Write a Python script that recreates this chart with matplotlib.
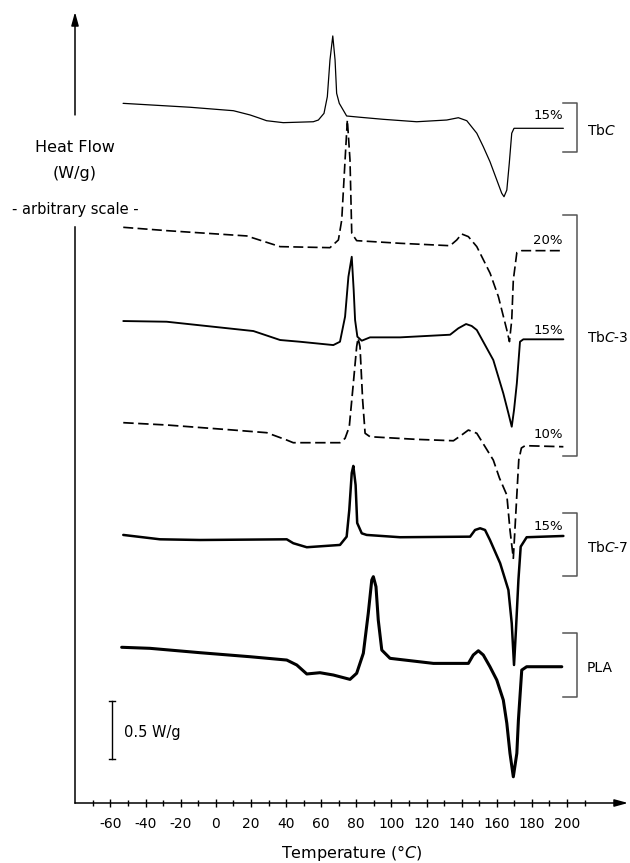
import matplotlib
matplotlib.use('Agg')
import matplotlib.pyplot as plt
import numpy as np

plt.rcParams['font.family'] = ['DejaVu Sans']
plt.rcParams['mathtext.fontset'] = 'dejavusans'
plt.rcParams['axes.unicode_minus'] = False

# ---------------- data (temperature in °C, heat flow in W/g relative to the end baseline)
temp_tbc = [-52.8, -14.7, 10, 19.5, 24.5, 28.9, 38.4, 55.5, 58.4, 61.6, 63.5, 65.0, 66.6, 67.9, 68.8,
            70.3, 74.5, 82.1, 95.4, 114.4, 131.5, 138.1, 142.9, 148.6, 152.3, 156.1, 160, 162.8,
            164.1, 165.7, 167.1, 168.5, 169.8, 197.9]
hf_tbc = [0.217, 0.183, 0.153, 0.116, 0.090, 0.066, 0.049, 0.057, 0.072, 0.130, 0.275, 0.594, 0.803,
          0.594, 0.304, 0.217, 0.107, 0.096, 0.078, 0.057, 0.072, 0.092, 0.066, -0.043, -0.160,
          -0.290, -0.450, -0.565, -0.595, -0.537, -0.304, -0.043, 0, 0]

temp_tbc3_20 = [-52.7, -28, 17.6, 36.6, 65, 69.8, 71.7, 73.6, 74.9, 76.4, 77.4, 80.2, 104.9, 133.4,
                137.2, 140, 143.8, 148.6, 156.2, 160.9, 165.7, 167.2, 168.5, 169.4, 171.4, 174.2, 197.9]
hf_tbc3_20 = [0.203, 0.174, 0.128, 0.035, 0.026, 0.093, 0.267, 0.789, 1.137, 0.789, 0.151, 0.087,
              0.064, 0.043, 0.093, 0.145, 0.122, 0.035, -0.197, -0.400, -0.690, -0.791, -0.603,
              -0.255, -0.017, 0, 0]

temp_tbc3_15 = [-52.7, -28, 21.4, 36.6, 47.9, 66.9, 70.7, 73.6, 75.5, 77.4, 78.5, 79.3, 80.6, 83.1,
                87.8, 104.9, 133.4, 138.1, 142.5, 145.7, 148.6, 158, 163.7, 166.6, 168.5, 169.8,
                171.4, 173.2, 175.1, 197.9]
hf_tbc3_15 = [0.159, 0.153, 0.072, -0.006, -0.021, -0.050, -0.021, 0.197, 0.544, 0.718, 0.429, 0.168,
              0.023, -0.012, 0.017, 0.017, 0.040, 0.096, 0.133, 0.116, 0.081, -0.180, -0.470, -0.643,
              -0.760, -0.615, -0.383, -0.021, 0, 0]

temp_tbc3_10 = [-52.7, -28, 10, 29, 40.4, 44.1, 70.7, 73.6, 76, 78.3, 80.2, 81.0, 82.1, 83.6, 85,
                87.8, 114.4, 135.3, 140, 143.8, 148.6, 158, 161.5, 165.7, 167.5, 169.4, 170.3, 171.4,
                172.5, 174, 176.1, 197.9]
hf_tbc3_10 = [0.209, 0.189, 0.145, 0.122, 0.058, 0.035, 0.035, 0.073, 0.174, 0.551, 0.870, 0.945,
              0.870, 0.406, 0.117, 0.087, 0.064, 0.052, 0.102, 0.145, 0.117, -0.116, -0.272, -0.420,
              -0.724, -0.970, -0.724, -0.420, -0.116, -0.011, 0.009, 0]

temp_tbc7 = [-52.7, -31.8, -9, 40.4, 44.1, 51.8, 70.7, 74.5, 76, 77.4, 78.3, 79.6, 80.5, 83.1, 85.9,
             104.9, 144.8, 147.6, 150.5, 153.3, 156.1, 161.9, 166.6, 168.5, 169.8, 170.9, 172.3,
             173.6, 177, 197.9]
hf_tbc7 = [0.009, -0.029, -0.035, -0.029, -0.063, -0.098, -0.078, -0.006, 0.226, 0.548, 0.609, 0.443,
           0.113, 0.023, 0.009, -0.011, -0.006, 0.052, 0.067, 0.052, -0.035, -0.237, -0.470, -0.759,
           -1.122, -0.817, -0.383, -0.093, -0.011, 0]

temp_pla = [-53.6, -37.5, -9, 19.5, 40.4, 46.1, 51.8, 59.3, 66.9, 76.4, 80.2, 84, 86.8, 88.8, 89.7,
            91.2, 92.5, 94.5, 99.2, 123.9, 143.8, 146.6, 149.5, 152.3, 156.1, 160, 163.7, 165.7,
            167.5, 169.4, 171.4, 172.3, 174.2, 177, 197]
hf_pla = [0.169, 0.160, 0.122, 0.087, 0.058, 0.015, -0.063, -0.052, -0.072, -0.110, -0.057, 0.117,
          0.464, 0.754, 0.783, 0.696, 0.406, 0.145, 0.073, 0.029, 0.029, 0.102, 0.139, 0.102, 0,
          -0.116, -0.290, -0.492, -0.753, -0.957, -0.753, -0.463, -0.029, 0, 0]

curve_offsets = [5.867, 4.803, 4.032, 3.098, 2.322, 1.185]
percent_labels = ['15%', '20%', '15%', '10%', '15%']
sample_labels = [r'Tb$\mathit{C}$', r'Tb$\mathit{C}$-3', r'Tb$\mathit{C}$-7', 'PLA']
major_ticks = list(range(-60, 201, 20))
minor_ticks = list(range(-70, 211, 10))

# ---------------- figure
fig = plt.figure(figsize=(6.3, 8.63), dpi=100)
ax = fig.add_axes([75 / 630, 60 / 863, 553 / 630, 791 / 863])
XMIN, XMAX = -80.18, 234.7
YTOP = 791 / 115
ax.set_xlim(XMIN, XMAX)
ax.set_ylim(0, YTOP)
for s in ax.spines.values():
    s.set_visible(False)
ax.set_yticks([])

curves = [
    (temp_tbc, hf_tbc, dict(lw=0.9, ls='-')),
    (temp_tbc3_20, hf_tbc3_20, dict(lw=1.2, ls=(0, (6, 2.6)))),
    (temp_tbc3_15, hf_tbc3_15, dict(lw=1.35, ls='-')),
    (temp_tbc3_10, hf_tbc3_10, dict(lw=1.25, ls=(0, (6, 2.6)))),
    (temp_tbc7, hf_tbc7, dict(lw=1.8, ls='-')),
    (temp_pla, hf_pla, dict(lw=2.2, ls='-')),
]
for (t, h, st), off in zip(curves, curve_offsets):
    ax.plot(t, np.array(h) + off, color='black', solid_joinstyle='round',
            solid_capstyle='round', **st)

# axes with arrows
arrow = dict(arrowstyle='-|>,head_length=0.8,head_width=0.22', lw=1.1, color='black',
             shrinkA=0, shrinkB=0)
ax.annotate('', xy=(XMAX, 0), xytext=(XMIN, 0), arrowprops=arrow, annotation_clip=False)
ax.annotate('', xy=(XMIN, YTOP), xytext=(XMIN, 5.983), arrowprops=arrow, annotation_clip=False)
ax.plot([XMIN, XMIN], [0, 5.009], color='black', lw=1.1, clip_on=False)

ax.text(XMIN, 5.696, 'Heat Flow', ha='center', va='center', fontsize=11.5)
ax.text(XMIN, 5.478, '(W/g)', ha='center', va='center', fontsize=11.5)
ax.text(XMIN, 5.157, '- arbitrary scale -', ha='center', va='center', fontsize=10.5)

ax.set_xticks(major_ticks)
ax.set_xticks(minor_ticks, minor=True)
ax.set_xticklabels([str(v) for v in major_ticks], fontsize=10)
ax.tick_params(axis='x', which='major', direction='inout', length=6, width=1.0, pad=7)
ax.tick_params(axis='x', which='minor', direction='inout', length=4.5, width=1.0)
ax.set_xlabel(r'Temperature (°$\mathit{C}$)', fontsize=11.5, labelpad=9)

# percentage labels
pct_y = [5.974, 4.887, 4.113, 3.200, 2.400]
for lab, y in zip(percent_labels, pct_y):
    ax.text(189.2, y, lab, ha='center', va='center', fontsize=9.5)

# brackets
brackets = [(6.087, 5.661), (5.113, 3.017), (2.522, 1.974), (1.478, 0.922)]
lab_y = [5.852, 4.052, 2.226, 1.174]
for (ytop, ybot), lab, ly in zip(brackets, sample_labels, lab_y):
    ax.plot([197.9, 205.9, 205.9, 197.9], [ytop, ytop, ybot, ybot], color='#555555', lw=1.1,
            clip_on=False)
    ax.text(211.4, ly, lab, ha='left', va='center', fontsize=10)

# scale bar 0.5 W/g
ax.plot([-59.2, -59.2], [0.383, 0.883], color='black', lw=1.0)
ax.plot([-60.8, -57.6], [0.383, 0.383], color='black', lw=1.0)
ax.plot([-60.8, -57.6], [0.883, 0.883], color='black', lw=1.0)
ax.text(-52.2, 0.609, '0.5 W/g', ha='left', va='center', fontsize=10.5)

fig.savefig('out.png', dpi=100)
